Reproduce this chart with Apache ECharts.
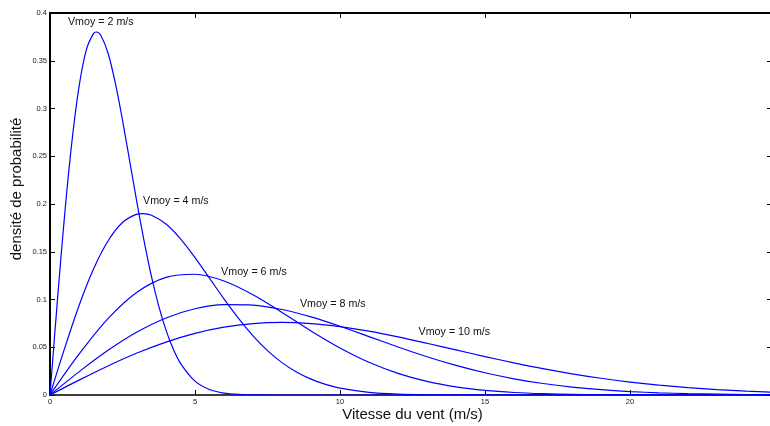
<!DOCTYPE html>
<html>
<head>
<meta charset="utf-8">
<script src="https://cdn.jsdelivr.net/npm/echarts@6/dist/echarts.min.js"></script>
<style>html,body{margin:0;padding:0;background:#fff}#c{width:770px;height:426px}</style>
</head>
<body>
<div id="c"></div>
<script>
// Wind speed (m/s) sample points
const x2 = [0,0.25,0.5,0.75,1,1.25,1.5,1.6,1.75,2,2.25,2.5,2.75,3,3.25,3.5,3.75,4,4.25,4.5,5,5.5,6,6.5,7,7.5,8,9,10,12,15,20,25];
const y2 = [0,0.0970,0.1870,0.2637,0.3227,0.3612,0.3787,0.3801,0.3767,0.3581,0.3270,0.2878,0.2446,0.2012,0.1604,0.1240,0.0931,0.0679,0.0481,0.0332,0.0145,0.0057,0.0020,0.0006,0.0002,0.00005,0,0,0,0,0,0,0];

const x4 = [0,0.5,1,1.5,2,2.5,3,3.2,3.5,4,4.5,5,5.5,6,6.5,7,7.5,8,8.5,9,9.5,10,11,12,13,14,15,20,25];
const y4 = [0,0.0485,0.0935,0.1319,0.1613,0.1806,0.1894,0.1900,0.1883,0.1790,0.1635,0.1439,0.1223,0.1006,0.0802,0.0620,0.0465,0.0339,0.0241,0.0166,0.0111,0.00725,0.00284,0.00100,0.00032,0.00009,0,0,0];

const xs = [0,1,2,3,4,5,6,7,8,9,10,11,12,13,14,15,16,17,18,19,20,21,22,23,24,25];
const y6 = [0,0.04269,0.07997,0.10756,0.12311,0.12645,0.11935,0.10488,0.08640,0.06708,0.04924,0.03425,0.02263,0.01420,0.00849,0.00483,0.00262,0.00136,0.00067,0.00031,0.00014,0.00006,0.00002,0,0,0];
const y8 = [0,0.02424,0.04674,0.06593,0.08067,0.09030,0.09467,0.09417,0.08952,0.08175,0.07194,0.06116,0.05031,0.04010,0.03101,0.02328,0.01697,0.01202,0.00829,0.00555,0.00362,0.00230,0.00142,0.00086,0.00050,0.00029];
const y10 = [0,0.01559,0.03044,0.04391,0.05541,0.06454,0.07104,0.07483,0.07602,0.07483,0.07161,0.06680,0.06083,0.05415,0.04718,0.04025,0.03366,0.02759,0.02220,0.01753,0.01358,0.01033,0.00772,0.00567,0.00409,0.00290];

const curveLabels = ['Vmoy = 2 m/s','Vmoy = 4 m/s','Vmoy = 6 m/s','Vmoy = 8 m/s','Vmoy = 10 m/s'];
const labelX = [0.62, 3.21, 5.90, 8.62, 12.71];
const labelY = [0.3906, 0.2034, 0.1288, 0.0953, 0.0663];

const xTicks = [0,5,10,15,20];
const yTicks = [0,0.05,0.1,0.15,0.2,0.25,0.3,0.35,0.4];

const seriesX = [x2, x4, xs, xs, xs];
const seriesY = [y2, y4, y6, y8, y10];

const chart = echarts.init(document.getElementById('c'), null, {renderer:'canvas'});
const tickLabel = {fontFamily:'Liberation Sans, Arial, sans-serif', fontSize:7.5, color:'#222'};

const series = seriesY.map((ys, i) => ({
  type:'line',
  xAxisIndex:0, yAxisIndex:0,
  data: ys.map((v, j) => [seriesX[i][j], v]),
  showSymbol:false,
  smooth:0.3,
  lineStyle:{color:'#0000ff', width:1.2},
  itemStyle:{color:'#0000ff'},
  silent:true,
  z:2,
  markPoint:{
    symbol:'circle', symbolSize:0, silent:true,
    data:[{coord:[labelX[i], labelY[i]], value:curveLabels[i]}],
    label:{show:true, position:[0,0], align:'left', verticalAlign:'middle',
      formatter: curveLabels[i], fontFamily:'Liberation Sans, Arial, sans-serif', fontSize:10.7, color:'#111'}
  }
}));

chart.setOption({
  animation:false,
  backgroundColor:'#fff',
  grid:{left:50, top:13, right:-5, bottom:31, containLabel:false, outerBoundsMode:'none'},
  xAxis:[{
    type:'value', min:0, max:25, interval:5, position:'bottom',
    name:'Vitesse du vent (m/s)', nameLocation:'middle', nameGap:12, nameMoveOverlap:false,
    nameTextStyle:{fontFamily:'Liberation Sans, Arial, sans-serif', fontSize:15, color:'#111'},
    axisLine:{show:true, onZero:false, lineStyle:{color:'#000', width:1.5}},
    axisTick:{show:true, inside:true, length:5, lineStyle:{color:'#000', width:1}},
    axisLabel:Object.assign({margin:3, formatter: v => xTicks.indexOf(v) >= 0 ? String(v) : ''}, tickLabel),
    splitLine:{show:false}
  },{
    type:'value', min:0, max:25, interval:5, position:'top',
    axisLine:{show:true, onZero:false, lineStyle:{color:'#000', width:2}},
    axisTick:{show:true, inside:true, length:5, lineStyle:{color:'#000', width:1}},
    axisLabel:{show:false}, splitLine:{show:false}
  }],
  yAxis:[{
    type:'value', min:0, max:0.4, interval:0.05, position:'left',
    name:'densité de probabilité', nameLocation:'middle', nameGap:26, nameMoveOverlap:false,
    nameTextStyle:{fontFamily:'Liberation Sans, Arial, sans-serif', fontSize:15, color:'#111', padding:[0,0,0,30]},
    axisLine:{show:true, onZero:false, lineStyle:{color:'#000', width:2}},
    axisTick:{show:true, inside:true, length:5, lineStyle:{color:'#000', width:1}},
    axisLabel:Object.assign({margin:3, formatter: v => {
      const r = Math.round(v*100)/100; return yTicks.indexOf(r) >= 0 ? String(r) : '';
    }}, tickLabel),
    splitLine:{show:false}
  },{
    type:'value', min:0, max:0.4, interval:0.05, position:'right',
    axisLine:{show:true, onZero:false, lineStyle:{color:'#000', width:1}},
    axisTick:{show:true, inside:true, length:8, lineStyle:{color:'#000', width:1}},
    axisLabel:{show:false}, splitLine:{show:false}
  }],
  series: series
});
</script>
</body>
</html>
